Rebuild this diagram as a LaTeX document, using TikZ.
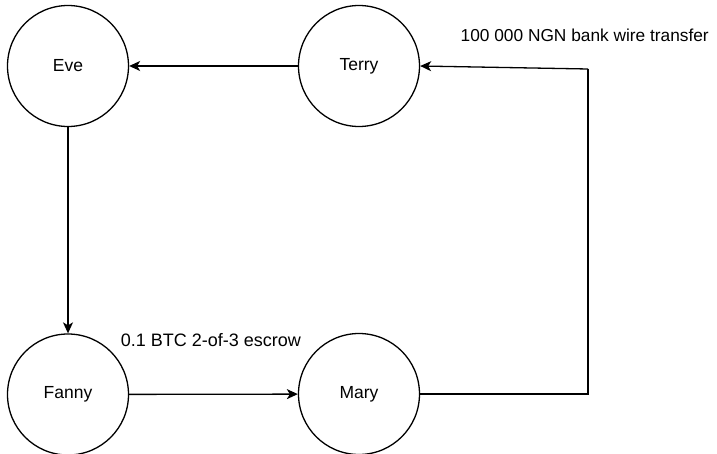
\documentclass[tikz,border=0pt]{standalone}
\usepackage{fontspec}
\setmainfont{Liberation Sans}
\usetikzlibrary{arrows.meta}
\begin{document}
\begin{tikzpicture}[x=1pt,y=-1pt,
  party/.style={circle,draw=black,line width=1.3pt,minimum size=121pt,inner sep=0pt,
    font=\fontsize{17.5}{20}\selectfont},
  flow/.style={line width=1.3pt,-{Stealth[length=11pt,width=10pt,inset=3pt]}},
  plain/.style={line width=1.3pt},
  note/.style={inner sep=0pt,font=\fontsize{18}{21}\selectfont}]
\useasboundingbox (0,0) rectangle (717,454);
\fill[white] (0,0) rectangle (717,454);

% parties
\node[party] (eve)   at (68,66)    {Eve};
\node[party] (terry) at (359,66)   {Terry};
\node[party] (fanny) at (68,394.5) {Fanny};
\node[party] (mary)  at (359,394)  {Mary};

% bends of the wire-transfer return path
\coordinate (bl) at (588,394);
\coordinate (tl) at (588,69);

% payment flows
\draw[flow] (terry) -- (eve);
\draw[flow] (eve) -- (fanny);
\draw[flow] (fanny) -- (mary);
\draw[plain] (mary.east) -- (bl) -- (tl);
\draw[flow] (tl) -- (terry.east);

% labels
\node[note,anchor=base west,font=\fontsize{17.3}{20}\selectfont] (wire) at (460.5,41.7) {100 000 NGN bank wire transfer};
\node[note,anchor=base west] (btc) at (120.7,346.7) {0.1 BTC 2-of-3 escrow};
\end{tikzpicture}
\end{document}
